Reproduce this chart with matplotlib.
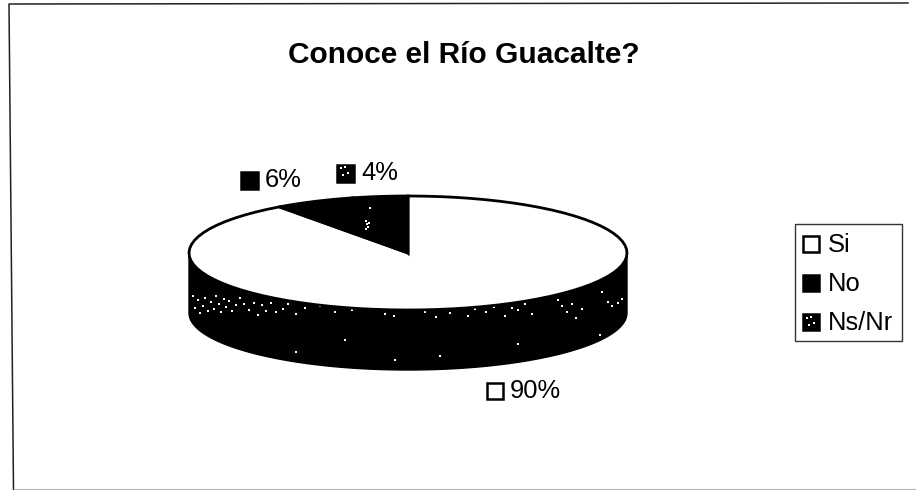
import numpy as np
import matplotlib
matplotlib.use("Agg")
import matplotlib.pyplot as plt
from matplotlib.patches import Polygon, Rectangle

plt.rcParams["font.family"] = ["Liberation Sans", "DejaVu Sans"]

categories = ["Si", "No", "Ns/Nr"]
shares = [90, 6, 4]
share_labels = ["90%", "6%", "4%"]
slice_colors = ["white", "black", "black"]

# pie geometry, in figure pixels
cx, cy = 408, 253
rx, ry = 219, 57
depth = 60

# print flecks showing through the dark areas, in figure pixels
fleck_x = [193, 195, 198, 200, 203, 205, 208, 211, 214, 216, 219, 221, 224, 226, 229,
           232, 236, 240, 244, 249, 254, 258, 262, 266, 271, 276, 283, 288, 296, 305,
           320, 335, 343, 352, 385, 390, 394, 425, 432, 436, 445, 450, 456, 462, 468,
           475, 480, 486, 494, 500, 505, 512, 518, 525, 532, 558, 562, 567, 572, 576,
           582, 602, 608, 612, 618, 622, 296, 345, 395, 440, 518, 600]
fleck_y = [296, 308, 300, 313, 306, 298, 311, 302, 309, 296, 304, 312, 299, 307, 301,
           311, 305, 298, 304, 310, 303, 315, 305, 311, 303, 312, 309, 304, 314, 308,
           306, 312, 305, 310, 314, 308, 316, 312, 305, 317, 309, 313, 307, 304, 316,
           309, 304, 312, 307, 305, 316, 308, 310, 304, 314, 300, 306, 312, 304, 318,
           309, 292, 302, 306, 303, 299, 352, 340, 360, 356, 344, 335]

fig = plt.figure(figsize=(9.16, 4.9), dpi=100)
ax = fig.add_axes([0, 0, 1, 1])
ax.set_xlim(0, 916)
ax.set_ylim(490, 0)
ax.axis("off")

# chart frame, only three edges came out on the page
ax.plot([13.5, 9, 908], [490, 4, 3], color="#222222", lw=1.1)
ax.plot([14, 916], [489, 489], color="#b5b5b5", lw=0.8)


def rim_point(angle):
    a = np.radians(angle)
    return cx + rx * np.cos(a), cy - ry * np.sin(a)


# side of the pie
t = np.linspace(180, 360, 200)
top_x, top_y = rim_point(t)
side = np.column_stack([np.r_[top_x, top_x[::-1]], np.r_[top_y, top_y[::-1] + depth]])
ax.add_patch(Polygon(side, closed=True, fc="black", ec="black", lw=1, zorder=2))

ax.scatter(fleck_x, fleck_y, s=3, c="white", marker="s", lw=0, zorder=3)

# top face: slices run clockwise from 12 o'clock
start = 0
for share, color in zip(shares, slice_colors):
    sweep = np.linspace(start, start + share, 80) * 3.6
    x, y = rim_point(90 - sweep)
    pts = np.column_stack([np.r_[cx, x], np.r_[cy, y]])
    ax.add_patch(Polygon(pts, closed=True, fc=color, ec="black", lw=2, zorder=4))
    start += share

# small flecks inside the 4% slice
ax.scatter([366, 367, 368, 366, 369, 370], [221, 224, 227, 229, 223, 208], s=3,
           c="white", marker="s", lw=0, zorder=5)


def swatch(x, y, size, color, flecks=False):
    ax.add_patch(Rectangle((x, y), size, size, fc=color, ec="black", lw=1.8, zorder=5))
    if flecks:
        ax.scatter([x + 4, x + 8, x + 11, x + 6], [y + 4, y + 3, y + 9, y + 11], s=3,
                   c="white", marker="s", lw=0, zorder=6)


ax.text(464, 55, "Conoce el Río Guacalte?", ha="center", va="center",
        fontsize=21.5, fontweight="bold")

# value labels
label_pos = [(487, 391), (241, 180), (337, 173)]
label_swatch = [16, 17, 17]
label_flecks = [False, False, True]
for (x, y), text, color, size, fl in zip(label_pos, share_labels, slice_colors,
                                         label_swatch, label_flecks):
    swatch(x, y - size / 2, size, color, fl)
    ax.text(x + size + 7, y, text, ha="left", va="center", fontsize=18.4)

# legend
ax.add_patch(Rectangle((795, 223.5), 107, 117.5, fc="white", ec="#333333", lw=1.0, zorder=4))
legend_y = [244, 283, 322]
legend_flecks = [False, False, True]
for name, color, y, fl in zip(categories, slice_colors, legend_y, legend_flecks):
    swatch(803, y - 8, 16, color, fl)
    ax.text(828, y + 1, name, ha="left", va="center", fontsize=18.4, zorder=6)

fig.savefig("out.png", dpi=100)
